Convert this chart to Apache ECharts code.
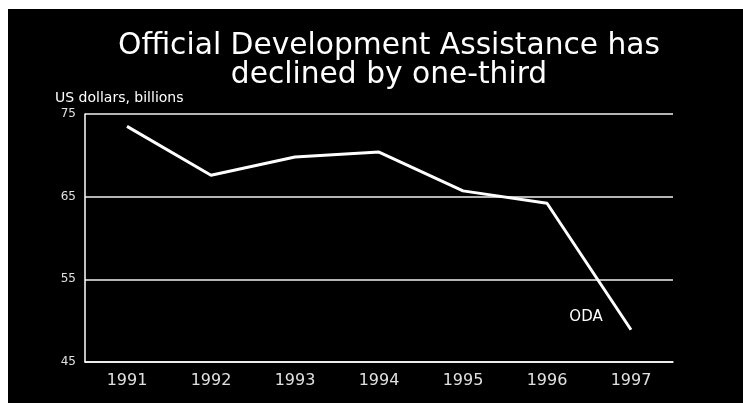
<!DOCTYPE html>
<html>
<head>
<meta charset="utf-8">
<script src="https://cdn.jsdelivr.net/npm/echarts@6/dist/echarts.min.js"></script>
<style>
  html, body { margin: 0; padding: 0; background: #ffffff; width: 743px; height: 403px; overflow: hidden; }
  #chart { position: absolute; left: 8px; top: 9px; width: 735px; height: 394px; }
</style>
</head>
<body>
<div id="chart"></div>
<script>
const titleLines = ['Official Development Assistance has', 'declined by one-third'];
const unitLabel = 'US dollars, billions';
const seriesName = 'ODA';
const years = ['1991', '1992', '1993', '1994', '1995', '1996', '1997'];
const odaValues = [73.5, 67.6, 69.8, 70.4, 65.7, 64.2, 48.9];
const yMin = 45, yMax = 75, yStep = 10;

const chart = echarts.init(document.getElementById('chart'), null, { renderer: 'canvas' });
const fontFam = '"DejaVu Sans", sans-serif';
chart.setOption({
  backgroundColor: '#000000',
  animation: false,
  grid: { left: 77, right: 70, top: 105, bottom: 41, containLabel: false },
  xAxis: {
    type: 'category',
    data: years,
    boundaryGap: true,
    axisLine: { show: true, lineStyle: { color: '#ffffff', width: 1.5 } },
    axisTick: { show: false },
    axisLabel: { color: '#e0e0e0', fontFamily: fontFam, fontSize: 16, margin: 11 }
  },
  yAxis: {
    type: 'value',
    min: yMin, max: yMax, interval: yStep,
    axisLine: { show: true, lineStyle: { color: '#ffffff', width: 1.5 } },
    axisTick: { show: false },
    splitLine: { show: true, lineStyle: { color: '#f0f0f0', width: 1.5 } },
    axisLabel: { color: '#e0e0e0', fontFamily: fontFam, fontSize: 12, margin: 9 }
  },
  series: [{
    name: seriesName,
    type: 'line',
    data: odaValues,
    symbol: 'none',
    lineStyle: { color: '#ffffff', width: 3 }
  }],
  graphic: [
    { type: 'text', style: { text: titleLines[0], x: 381, y: 37, textAlign: 'center', textVerticalAlign: 'middle', fill: '#ffffff', font: '29.7px ' + fontFam } },
    { type: 'text', style: { text: titleLines[1], x: 381, y: 66, textAlign: 'center', textVerticalAlign: 'middle', fill: '#ffffff', font: '29.7px ' + fontFam } },
    { type: 'text', style: { text: unitLabel, x: 47, y: 89, textAlign: 'left', textVerticalAlign: 'middle', fill: '#ffffff', font: '14px ' + fontFam } },
    { type: 'text', style: { text: seriesName, x: 578, y: 308, textAlign: 'center', textVerticalAlign: 'middle', fill: '#ffffff', font: '15px ' + fontFam } }
  ]
});
</script>
</body>
</html>
